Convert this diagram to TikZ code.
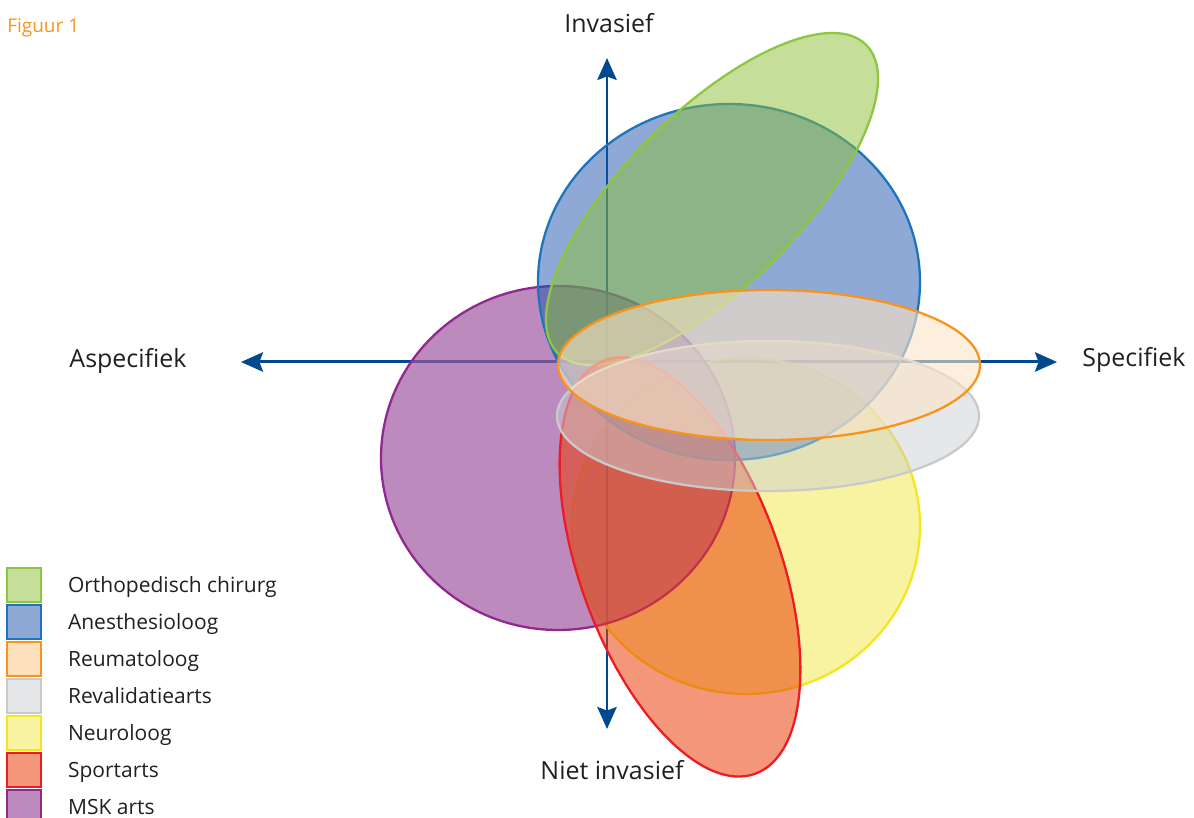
\documentclass[tikz,border=0pt]{standalone}
\usepackage{fontspec}
\setmainfont{Open Sans}
\usetikzlibrary{arrows.meta, positioning}
\definecolor{axisblue}{RGB}{0,73,144}
\definecolor{textgrey}{RGB}{35,31,32}
\definecolor{figorange}{RGB}{247,148,29}
\definecolor{ortholine}{RGB}{141,198,63}
\definecolor{orthofill}{RGB}{139,191,55}
\definecolor{anesline}{RGB}{28,117,188}
\definecolor{anesfill}{RGB}{29,83,173}
\definecolor{reumaline}{RGB}{247,148,29}
\definecolor{reumafill}{RGB}{252,228,198}
\definecolor{revaline}{RGB}{200,202,204}
\definecolor{revafill}{RGB}{205,207,209}
\definecolor{neuroline}{RGB}{242,230,30}
\definecolor{neurofill}{RGB}{241,231,65}
\definecolor{sportline}{RGB}{237,28,36}
\definecolor{sportfill}{RGB}{235,61,9}
\definecolor{mskline}{RGB}{146,39,143}
\definecolor{mskfill}{RGB}{159,89,161}

\begin{document}
\begin{tikzpicture}[
    x=0.02cm, y=0.02cm,
    axis/.style={draw=axisblue, line width=1.7pt,
        {Stealth[length=12.5pt, width=11pt, inset=2pt]}-{Stealth[length=12.5pt, width=11pt, inset=2pt]}},
    zone/.style={line width=1.3pt},
    ortho/.style={zone, draw=ortholine, fill=orthofill, fill opacity=0.5},
    anes/.style={zone, draw=anesline, fill=anesfill, fill opacity=0.5},
    reuma/.style={zone, draw=reumaline, fill=reumafill, fill opacity=0.6},
    reumaleg/.style={reuma, fill=reumaline, fill opacity=0.3},
    reva/.style={zone, draw=revaline, fill=revafill, fill opacity=0.5},
    neuro/.style={zone, draw=neuroline, fill=neurofill, fill opacity=0.5},
    sport/.style={zone, draw=sportline, fill=sportfill, fill opacity=0.54},
    msk/.style={zone, draw=mskline, fill=mskfill, fill opacity=0.7},
    swatch/.style={minimum size=0.68cm, inner sep=0pt, line width=0.8pt},
    legtext/.style={inner sep=0pt, text height=8.5pt, text depth=0pt,
        font=\fontsize{11.95}{14}\selectfont, text=textgrey},
    axislabel/.style={anchor=base, inner sep=0pt, font=\fontsize{14.2}{17}\selectfont, text=textgrey}
]
\useasboundingbox (0,0) rectangle (1194,818);

% Axes
\coordinate (top) at (607,760);
\coordinate (bottom) at (607,89);
\coordinate (left) at (241,456);
\coordinate (right) at (1057,456);
\draw[axis] (bottom) -- (top);
\draw[axis] (left) -- (right);

% Specialisms
\draw[neuro] (746,292) ellipse [x radius=174, y radius=168];
\draw[msk] (558,360) ellipse [x radius=177, y radius=172];
\draw[anes] (729,536) ellipse [x radius=191, y radius=178];
\draw[ortho, rotate around={45:(712,619)}] (712,619) ellipse [x radius=218, y radius=87];
\draw[sport, rotate around={110:(680,251)}] (680,251) ellipse [x radius=220, y radius=100];
\draw[reva] (768,402) ellipse [x radius=211, y radius=75];
\draw[reuma] (769,453) ellipse [x radius=211, y radius=75];

% Axis labels
\node[axislabel] (inv) at (609,785) {Invasief};
\node[axislabel] (nietinv) at (612,38) {Niet invasief};
\node[axislabel] (asp) at (128,450) {Aspecifiek};
\node[axislabel] (spec) at (1134,451) {Specifiek};
\node[anchor=base west, inner sep=0pt, font=\fontsize{10.8}{13}\selectfont, text=figorange] (fig) at (7,785) {Figuur 1};

% Legend
\foreach \st/\lab [count=\i] in {ortho/Orthopedisch chirurg, anes/Anesthesioloog,
    reumaleg/Reumatoloog, reva/Revalidatiearts, neuro/Neuroloog, sport/Sportarts, msk/MSK arts} {
  \node[\st, swatch] (sq\i) at (24,270-37*\i) {};
  \node[legtext, right=0.52cm of sq\i] (lb\i) {\lab};
}

\end{tikzpicture}
\end{document}
